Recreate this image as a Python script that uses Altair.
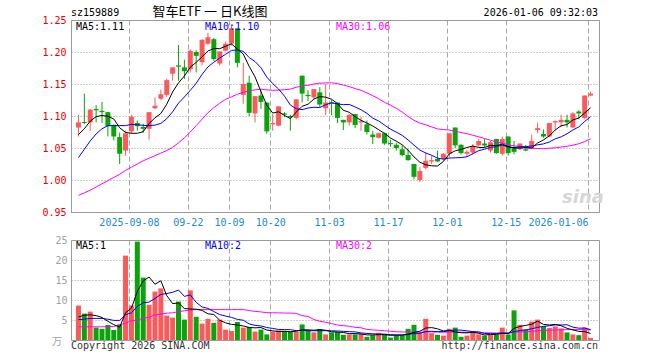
import json
import altair as alt
import numpy as np
import pandas as pd

# ---------------- data ----------------
tick_idx = [9, 19, 26, 33, 43, 53, 63, 73, 87]
tick_lab = ["2025-09-08", "09-22", "10-09", "10-20", "11-03", "11-17", "12-01", "12-15", "2026-01-06"]

opens = [1.082, 1.090, 1.090, 1.111, 1.108, 1.106, 1.086, 1.067, 1.046, 1.076,
         1.089, 1.083, 1.080, 1.112, 1.127, 1.133, 1.166, 1.179, 1.176, 1.173,
         1.200, 1.184, 1.213, 1.220, 1.182, 1.202, 1.213, 1.237, 1.133, 1.152,
         1.104, 1.132, 1.121, 1.087, 1.085, 1.104, 1.100, 1.097, 1.163, 1.133,
         1.129, 1.137, 1.112, 1.121, 1.121, 1.094, 1.090, 1.103, 1.090, 1.087,
         1.071, 1.066, 1.073, 1.057, 1.055, 1.048, 1.039, 1.025, 1.000, 1.019,
         1.029, 1.033, 1.033, 1.041, 1.082, 1.055, 1.041, 1.043, 1.054, 1.057,
         1.046, 1.064, 1.041, 1.068, 1.050, 1.048, 1.048, 1.050, 1.078, 1.072,
         1.068, 1.090, 1.090, 1.094, 1.082, 1.107, 1.097, 1.132]
highs = [1.102, 1.135, 1.111, 1.117, 1.122, 1.106, 1.087, 1.074, 1.077, 1.102,
         1.093, 1.088, 1.106, 1.129, 1.141, 1.158, 1.176, 1.211, 1.188, 1.204,
         1.203, 1.220, 1.230, 1.222, 1.201, 1.216, 1.243, 1.237, 1.183, 1.163,
         1.131, 1.140, 1.121, 1.103, 1.115, 1.106, 1.102, 1.126, 1.163, 1.140,
         1.142, 1.145, 1.150, 1.125, 1.121, 1.094, 1.102, 1.103, 1.099, 1.093,
         1.077, 1.074, 1.074, 1.063, 1.058, 1.054, 1.048, 1.025, 1.020, 1.043,
         1.038, 1.046, 1.042, 1.073, 1.082, 1.056, 1.047, 1.056, 1.064, 1.064,
         1.061, 1.064, 1.068, 1.068, 1.061, 1.057, 1.055, 1.071, 1.089, 1.079,
         1.089, 1.093, 1.102, 1.102, 1.106, 1.109, 1.132, 1.138]
lows = [1.068, 1.087, 1.077, 1.090, 1.089, 1.068, 1.062, 1.025, 1.038, 1.072,
        1.077, 1.074, 1.063, 1.111, 1.125, 1.130, 1.155, 1.155, 1.158, 1.168,
        1.168, 1.179, 1.211, 1.186, 1.179, 1.201, 1.210, 1.176, 1.119, 1.100,
        1.090, 1.111, 1.072, 1.077, 1.084, 1.098, 1.077, 1.095, 1.121, 1.123,
        1.127, 1.114, 1.101, 1.101, 1.089, 1.078, 1.085, 1.081, 1.077, 1.071,
        1.056, 1.065, 1.055, 1.052, 1.046, 1.037, 1.030, 1.001, 0.997, 1.017,
        1.025, 1.028, 1.030, 1.036, 1.050, 1.040, 1.036, 1.040, 1.052, 1.051,
        1.043, 1.041, 1.038, 1.038, 1.040, 1.047, 1.045, 1.048, 1.073, 1.066,
        1.067, 1.078, 1.082, 1.082, 1.081, 1.095, 1.095, 1.131]
closes = [1.090, 1.089, 1.110, 1.109, 1.106, 1.084, 1.068, 1.041, 1.073, 1.099,
          1.084, 1.080, 1.106, 1.116, 1.134, 1.156, 1.176, 1.177, 1.170, 1.202,
          1.194, 1.219, 1.223, 1.189, 1.201, 1.213, 1.237, 1.183, 1.150, 1.105,
          1.131, 1.122, 1.076, 1.089, 1.115, 1.102, 1.098, 1.126, 1.135, 1.131,
          1.142, 1.118, 1.121, 1.119, 1.097, 1.090, 1.102, 1.086, 1.092, 1.075,
          1.067, 1.073, 1.057, 1.056, 1.050, 1.039, 1.031, 1.005, 1.014, 1.030,
          1.031, 1.029, 1.041, 1.073, 1.054, 1.042, 1.044, 1.053, 1.061, 1.054,
          1.059, 1.042, 1.064, 1.042, 1.044, 1.057, 1.046, 1.061, 1.081, 1.068,
          1.089, 1.092, 1.094, 1.090, 1.104, 1.104, 1.132, 1.135]
volumes = [8.6, 6.6, 7.1, 3.1, 2.8, 3.75, 2.5, 3.9, 21.1, 8.6,
           24.6, 15.6, 8.8, 12.1, 12.9, 6.1, 5.6, 9.6, 5.1, 12.4,
           5.8, 4.1, 5.3, 4.3, 5.1, 2.6, 2.25, 4.5, 3.1, 3.25,
           2.1, 2.6, 1.4, 2.1, 2.4, 2.3, 2.1, 2.1, 3.9, 2.25,
           1.9, 2.75, 1.4, 1.9, 2.0, 1.3, 1.4, 1.4, 1.5, 0.8,
           1.2, 1.8, 1.4, 0.6, 1.2, 1.2, 2.8, 3.8, 1.9, 5.3,
           1.7, 1.3, 1.1, 2.8, 3.1, 0.8, 1.1, 1.9, 1.4, 1.1,
           1.3, 1.3, 3.1, 1.4, 7.4, 3.8, 2.6, 4.6, 5.1, 3.4,
           3.0, 3.4, 2.9, 1.9, 1.4, 1.2, 3.1, 0.5]

# moving-average values at the left edge (their earlier history is off the chart)
ma5_head = [1.071, 1.080, 1.092, 1.099]
ma10_head = [1.035, 1.048, 1.061, 1.072, 1.080, 1.085, 1.085, 1.085, 1.085]
ma30_head = [0.976, 0.980, 0.984, 0.989, 0.994, 0.999, 1.004, 1.009, 1.015, 1.020,
             1.025, 1.030, 1.034, 1.038, 1.042, 1.046, 1.051, 1.058, 1.066, 1.075,
             1.085, 1.095, 1.105, 1.113, 1.120, 1.126, 1.130, 1.134, 1.137]
vma5_head = [5.75, 6.2, 6.3, 6.1]
vma10_head = [5.1, 5.2, 5.4, 5.4, 5.4, 5.2, 4.9, 4.9, 6.3]
vma30_head = [3.3, 3.3, 3.3, 3.3, 3.3, 3.35, 3.4, 3.75, 4.25, 4.75,
              5.0, 5.4, 5.7, 6.25, 6.5, 6.7, 6.8, 7.1, 7.3, 7.5,
              7.6, 7.6, 7.6, 7.6, 7.6, 7.6, 7.6, 7.6, 7.6]

price_ticks = [0.95, 1.00, 1.05, 1.10, 1.15, 1.20, 1.25]
vol_ticks = [5, 10, 15, 20, 25]
price_legend = ["MA5:1.11", "MA10:1.10", "MA30:1.06"]
vol_legend = ["MA5:1", "MA10:2", "MA30:2"]
code_text = "sz159889"
title_text = "智车ETF 一 日K线图"
time_text = "2026-01-06 09:32:03"
unit_text = "万"
copyright_text = "Copyright 2026 SINA.COM"
url_text = "http://finance.sina.com.cn"
logo_text = "sina"

# ---------------- table ----------------
n = len(closes)
df = pd.DataFrame({"i": np.arange(n), "open": opens, "high": highs, "low": lows,
                   "close": closes, "vol": volumes})
df["x"] = df["i"] + 5 / 12          # candle centre sits right of its day's gridline
df["lo"] = df[["open", "close"]].min(axis=1)
df["hi"] = np.maximum(df[["open", "close"]].max(axis=1), df["lo"] + 0.0016)


def moving(series, window, head):
    m = series.rolling(window).mean().to_numpy()
    m[:len(head)] = head
    return m


df["ma5"] = moving(df["close"], 5, ma5_head)
df["ma10"] = moving(df["close"], 10, ma10_head)
df["ma30"] = moving(df["close"], 30, ma30_head)
df["vma5"] = moving(df["vol"], 5, vma5_head)
df["vma10"] = moving(df["vol"], 10, vma10_head)
df["vma30"] = moving(df["vol"], 30, vma30_head)

# ---------------- styling ----------------
MONO = "DejaVu Sans Mono"
CJK = "Noto Sans CJK SC"
RED = "#fb5a5a"
GREEN = "#0aa30a"
GRID = "#a8a8a8"
W, H1, H2 = 528, 192, 100
up = alt.condition("datum.close >= datum.open", alt.value(RED), alt.value(GREEN))

label_expr = f"{json.dumps(tick_lab)}[indexof({json.dumps(tick_idx)}, datum.value)]"
xscale = alt.Scale(domain=[0, 88], nice=False, zero=False)
x_main = alt.X("x:Q", scale=xscale, axis=alt.Axis(
    values=tick_idx, labelExpr=label_expr, title=None, grid=True, gridDash=[5, 3],
    gridColor=GRID, ticks=False, domain=False, labelColor="#1a8ad4", labelFont=MONO,
    labelFontSize=10, labelPadding=5, labelFlush=False, labelOverlap=False,
    labelAlign={"condition": {"test": "datum.value == 87", "value": "right"}, "value": "center"}))
x_vol = alt.X("x:Q", scale=xscale, axis=alt.Axis(
    values=tick_idx, labels=False, title=None, grid=True, gridDash=[5, 3],
    gridColor=GRID, ticks=False, domain=False))

pscale = alt.Scale(domain=[0.95, 1.25], nice=False, zero=False)
paxis = alt.Axis(values=price_ticks, format=".2f", title=None, grid=True, gridDash=[1, 2],
                 gridColor="#999999", ticks=False, domain=False, labelColor="#e60000",
                 labelFont=MONO, labelFontSize=10, labelPadding=5)
vscale = alt.Scale(domain=[0, 25], nice=False, zero=True)
vaxis = alt.Axis(values=vol_ticks, title=None, grid=True, gridDash=[1, 2],
                 gridColor="#999999", ticks=False, domain=False, labelColor="#a0a0a0",
                 labelFont=MONO, labelFontSize=10, labelPadding=4)


def text(t, x, y, color, size=10, align="left", font=MONO, **kw):
    return alt.Chart(pd.DataFrame({"t": [t]})).mark_text(
        align=align, baseline="middle", font=font, fontSize=size, color=color, **kw
    ).encode(text="t:N", x=alt.value(x), y=alt.value(y))


base = alt.Chart(df)
wick = base.mark_rule(strokeWidth=1).encode(
    x=x_main, y=alt.Y("low:Q", scale=pscale, axis=paxis), y2="high:Q", color=up)
body = base.mark_bar(size=5).encode(
    x=x_main, y=alt.Y("lo:Q", scale=pscale, axis=paxis), y2="hi:Q", color=up)
plines = [base.mark_line(strokeWidth=1).encode(
    x=x_main, y=alt.Y(f"{c}:Q", scale=pscale, axis=paxis), color=alt.value(col))
    for c, col in [("ma30", "#ff00ff"), ("ma10", "#0000ff"), ("ma5", "#000000")]]

main = alt.layer(
    wick, body, *plines,
    text(price_legend[0], 5, 7, "#000000"),
    text(price_legend[1], 134, 7, "#0000ff"),
    text(price_legend[2], 265, 7, "#ff00ff"),
    text(code_text, 0, -7, "#000000"),
    text(title_text, 139, -8, "#000000", size=13, align="center", font=CJK),
    text(time_text, 527, -7, "#000000", align="right"),
    text(logo_text, 512, 178, "#d6d6d6", size=18, align="center",
         font="DejaVu Sans", fontStyle="italic", fontWeight="bold"),
).properties(width=W, height=H1)

vbars = base.mark_bar(size=5).encode(
    x=x_vol, y=alt.Y("vol:Q", scale=vscale, axis=vaxis), color=up)
vlines = [base.mark_line(strokeWidth=1).encode(
    x=x_vol, y=alt.Y(f"{c}:Q", scale=vscale, axis=vaxis), color=alt.value(col))
    for c, col in [("vma30", "#ff00ff"), ("vma10", "#0000ff"), ("vma5", "#000000")]]

vol = alt.layer(
    vbars, *vlines,
    text(vol_legend[0], 5, 6, "#000000"),
    text(vol_legend[1], 134, 6, "#0000ff"),
    text(vol_legend[2], 265, 6, "#ff00ff"),
    text(unit_text, -9, 102, "#a0a0a0", align="right", font=CJK),
    text(copyright_text, 0, 106, "#333333"),
    text(url_text, 527, 106, "#333333", align="right"),
).properties(width=W, height=H2)

chart = alt.vconcat(main, vol, spacing=28, bounds="flush").properties(
    padding={"left": 41, "top": 5, "right": 0, "bottom": 0},
    background="white",
).configure_view(stroke="#9a9a9a", strokeWidth=1)

chart.save("out.html", embed_options={"renderer": "svg", "actions": False})
